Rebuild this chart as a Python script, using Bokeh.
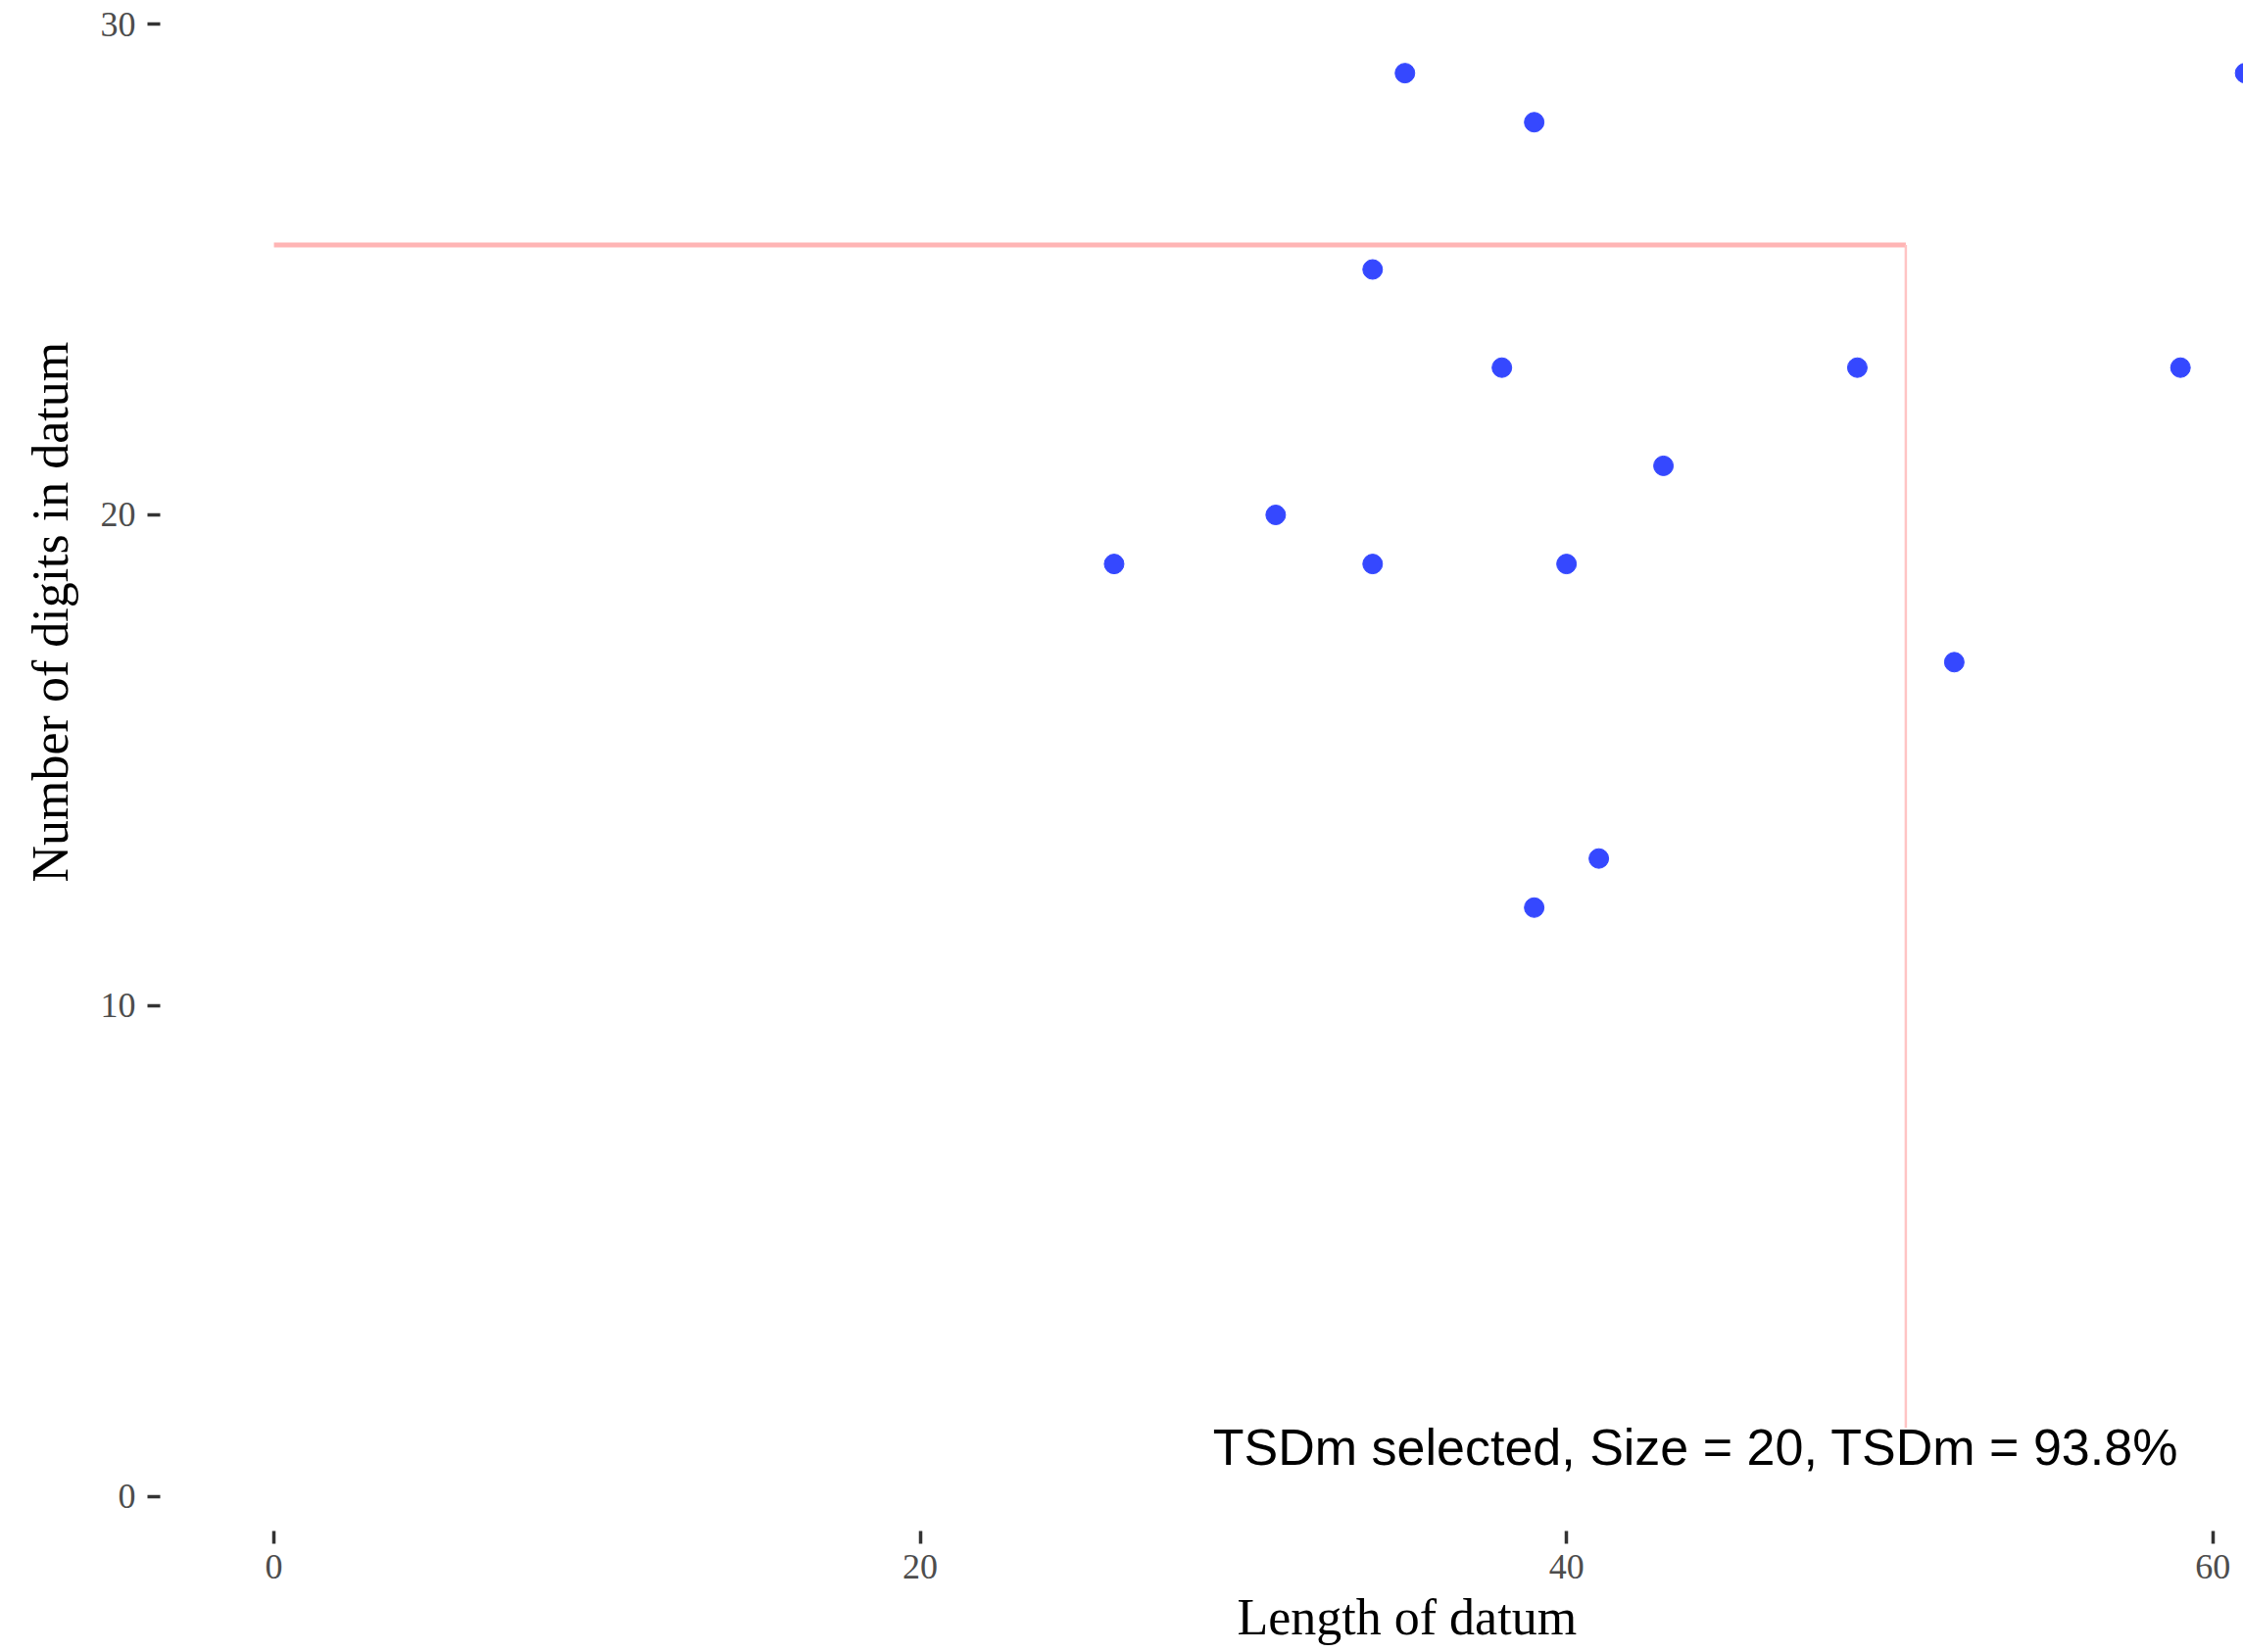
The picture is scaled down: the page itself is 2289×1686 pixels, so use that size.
from bokeh.plotting import figure
from bokeh.models import ColumnDataSource, Label, FixedTicker, Title
from bokeh.embed import file_html
from bokeh.resources import INLINE

# ---- data ----
length_of_datum = [35, 39, 61, 34, 38, 49, 59, 43, 31, 26, 34, 40, 52, 41, 39]
digits_in_datum = [29, 28, 29, 25, 23, 23, 23, 21, 20, 19, 19, 19, 17, 13, 12]

x_ticks = [0, 20, 40, 60]
y_ticks = [0, 10, 20, 30]

# selection thresholds (reference lines)
thr_x0 = 0
thr_x = 50.5
thr_y = 25.5
thr_y_bottom = 1.4

annotation_text = "TSDm selected, Size = 20, TSDm = 93.8%"
annotation_x = 44.0
annotation_y = 1.0

x_title = "Length of datum"
y_title = "Number of digits in datum"

# ---- figure ----
p = figure(width=2289, height=1686, x_range=(-3.52, 60.95), y_range=(-0.70, 30.32),
           output_backend="svg", toolbar_location=None,
           min_border_left=163, min_border_right=0, min_border_top=8, min_border_bottom=124)
p.background_fill_color = "white"
p.border_fill_color = "white"
p.outline_line_color = None
p.grid.visible = False

for ax in (p.xaxis[0], p.yaxis[0]):
    ax.axis_line_color = None
    ax.major_tick_in = 0
    ax.major_tick_out = 13
    ax.major_tick_line_color = "#333333"
    ax.major_tick_line_width = 3.5
    ax.minor_tick_line_color = None
    ax.major_label_text_font = "Liberation Serif"
    ax.major_label_text_font_size = "36px"
    ax.major_label_text_color = "#4D4D4D"

p.xaxis[0].ticker = FixedTicker(ticks=x_ticks)
p.yaxis[0].ticker = FixedTicker(ticks=y_ticks)
p.xaxis[0].major_label_standoff = 11
p.yaxis[0].major_label_standoff = 12

# reference lines
seg_src = ColumnDataSource(dict(x0=[thr_x0], y0=[thr_y], x1=[thr_x], y1=[thr_y]))
p.segment(x0="x0", y0="y0", x1="x1", y1="y1", source=seg_src,
          line_color="#FFB5B5", line_width=5)
vseg_src = ColumnDataSource(dict(x0=[thr_x], y0=[thr_y], x1=[thr_x], y1=[thr_y_bottom]))
p.segment(x0="x0", y0="y0", x1="x1", y1="y1", source=vseg_src,
          line_color="#FFC4C4", line_width=2.5)

# points
src = ColumnDataSource(dict(x=length_of_datum, y=digits_in_datum))
p.scatter(x="x", y="y", source=src, size=20, marker="circle",
          fill_color="#3548FF", line_color="#3548FF", line_width=1)

# annotation
p.add_layout(Label(x=annotation_x, y=annotation_y, text=annotation_text,
                   text_font="Liberation Sans", text_font_size="52px",
                   text_color="black", text_align="center", text_baseline="middle"))

# axis titles (centred on the full, partly cropped panel in the reference)
p.add_layout(Title(text=x_title, align="left", offset=1099, standoff=12,
                   vertical_align="bottom",
                   text_font="Liberation Serif", text_font_size="52px",
                   text_font_style="normal", text_color="black"), "below")
p.add_layout(Title(text=y_title, align="left", offset=662, standoff=39,
                   text_font="Liberation Serif", text_font_size="52px",
                   text_font_style="normal", text_color="black"), "left")

open("out.html", "w").write(file_html(p, INLINE))
